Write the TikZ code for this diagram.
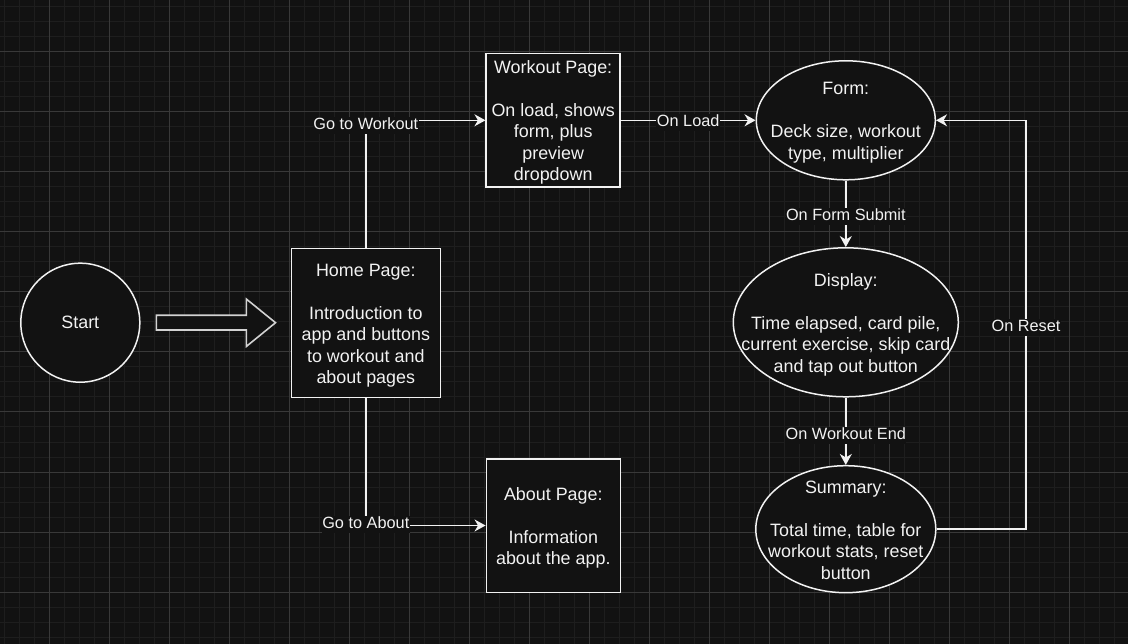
\documentclass[tikz,border=0pt]{standalone}
\usepackage{fontspec}
\setmainfont{Liberation Sans}
\usetikzlibrary{shapes.geometric,arrows.meta}
\definecolor{bg}{HTML}{121212}
\definecolor{gridminor}{HTML}{1E1E1E}
\definecolor{gridmajor}{HTML}{393939}
\definecolor{fg}{HTML}{F2F2F2}
\definecolor{bigarrowgray}{HTML}{D2D2D2}
\newcommand\boxfont{\fontsize{17.9pt}{21.5pt}\selectfont}
\newcommand\lblfont{\fontsize{16.3pt}{19.6pt}\selectfont}
\begin{document}
\begin{tikzpicture}[x=1pt,y=-1pt,
  pagebox/.style={draw=fg, fill=bg, line width=1.5pt, rectangle, inner sep=0pt},
  ovalshape/.style={draw=fg, fill=bg, line width=1.5pt, ellipse, inner sep=0pt},
  roundshape/.style={draw=fg, fill=bg, line width=1.5pt, circle, inner sep=0pt},
  shapetext/.style={align=center, font=\boxfont, text=fg, inner sep=0pt, yshift=-2.5pt},
  conn/.style={draw=fg, line width=1.5pt, -{Stealth[length=11pt,width=12pt,inset=3.5pt]}},
  lbl/.style={fill=bg, text=fg, font=\lblfont, inner sep=0.5pt, text height=12pt, text depth=4pt}]
\useasboundingbox (0,0) rectangle (1128,644);
\fill[bg] (0,0) rectangle (1128,644);
% grid
\foreach \gx in {4,19,...,1127} \draw[gridminor, line width=1pt] (\gx,0) -- (\gx,644);
\foreach \gy in {7,22,...,643} \draw[gridminor, line width=1pt] (0,\gy) -- (1128,\gy);
\foreach \gx in {49,109,...,1127} \draw[gridmajor, line width=1pt] (\gx,0) -- (\gx,644);
\foreach \gy in {52,112,...,643} \draw[gridmajor, line width=1pt] (0,\gy) -- (1128,\gy);

% start
\node[roundshape, minimum size=119pt] (start) at (80.3,322.7) {};
\node[shapetext, yshift=2.5pt] (starttxt) at (start.center) {Start};

% big arrow
\draw[bigarrowgray, fill=bg, line width=1.6pt, line join=miter]
  (156.3,315.3) -- (246.3,315.3) -- (246.3,299) -- (275.5,322.7) -- (246.3,346.5) -- (246.3,330) -- (156.3,330) -- cycle;

% pages
\node[pagebox, minimum width=149pt, minimum height=149pt] (home) at (365.8,323) {};
\node[shapetext] (hometxt) at (home.center)
  {\strut Home Page:\\[21.5pt]Introduction to\\app and buttons\\to workout and\\about pages\strut};
\node[pagebox, minimum width=134pt, minimum height=133.5pt] (workout) at (553.2,120.3) {};
\node[shapetext] (workouttxt) at (workout.center)
  {\strut Workout Page:\\[21.5pt]On load, shows\\form, plus\\preview\\dropdown\strut};
\node[pagebox, minimum width=134pt, minimum height=133.5pt] (about) at (553.3,525.5) {};
\node[shapetext] (abouttxt) at (about.center)
  {\strut About Page:\\[21.5pt]Information\\about the app.\strut};

% ovals
\node[ovalshape, minimum width=179pt, minimum height=119pt] (formshape) at (845.8,120.3) {};
\node[shapetext] (formtxt) at (formshape.center)
  {\strut Form:\\[21.5pt]Deck size, workout\\type, multiplier\strut};
\node[ovalshape, minimum width=225pt, minimum height=149pt] (displayshape) at (845.8,322.3) {};
\node[shapetext] (displaytxt) at (displayshape.center)
  {\strut Display:\\[21.5pt]Time elapsed, card pile,\\current exercise, skip card\\and tap out button\strut};
\node[ovalshape, minimum width=180pt, minimum height=127pt] (summaryshape) at (845.8,529.2) {};
\node[shapetext] (summarytxt) at (summaryshape.center)
  {\strut Summary:\\[21.5pt]Total time, table for\\workout stats, reset\\button\strut};

% connectors
\draw[conn] (home.north) |- node[lbl, pos=0.5, yshift=-5pt] (lblgw) {Go to Workout} (workout.west);
\draw[conn] (home.south) |- node[lbl, pos=0.5, yshift=1.5pt] (lblga) {Go to About} (about.west);
\draw[conn] (workout.east) -- node[lbl, yshift=-1.75pt] (lblol) {On Load} (formshape.west);
\draw[conn] (formshape.south) -- node[lbl, yshift=-2.35pt] (lblfs) {On Form Submit} (displayshape.north);
\draw[conn] (displayshape.south) -- node[lbl, yshift=-3.8pt] (lblwe) {On Workout End} (summaryshape.north);
\coordinate (resetturn) at (1026,120.3);
\draw[conn] (summaryshape.east) -| node[lbl, pos=0.75, yshift=-2.5pt] (lblor) {On Reset} (resetturn) -- (formshape.east);
\end{tikzpicture}
\end{document}
